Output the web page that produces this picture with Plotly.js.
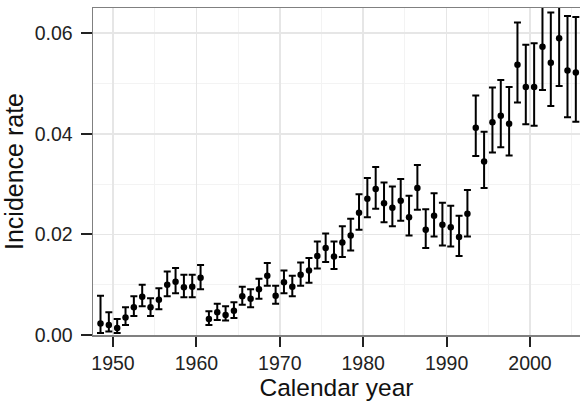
<!DOCTYPE html>
<html>
<head>
<meta charset="utf-8">
<script src="https://cdn.plot.ly/plotly-3.0.1.min.js"></script>
<style>html,body{margin:0;padding:0;background:#fff;}#chart{width:580px;height:402px;}</style>
</head>
<body>
<div id="chart"></div>
<script>
// Calendar years (points drawn at mid-year)
const years = [1948,1949,1950,1951,1952,1953,1954,1955,1956,1957,
               1958,1959,1960,1961,1962,1963,1964,1965,1966,1967,
               1968,1969,1970,1971,1972,1973,1974,1975,1976,1977,
               1978,1979,1980,1981,1982,1983,1984,1985,1986,1987,
               1988,1989,1990,1991,1992,1993,1994,1995,1996,1997,
               1998,1999,2000,2001,2002,2003,2004,2005];
// Incidence rate estimates
const rate = [0.0023,0.0020,0.0014,0.0035,0.0055,0.0076,0.0055,0.0070,0.0100,0.0106,
              0.0095,0.0096,0.0114,0.0032,0.0045,0.0040,0.0048,0.0077,0.0072,0.0091,
              0.0118,0.0078,0.0105,0.0096,0.0120,0.0128,0.0157,0.0173,0.0156,0.0184,
              0.0198,0.0243,0.0271,0.0290,0.0262,0.0253,0.0267,0.0234,0.0292,0.0209,
              0.0237,0.0219,0.0214,0.0195,0.0241,0.0412,0.0345,0.0423,0.0436,0.0420,
              0.0537,0.0493,0.0493,0.0573,0.0541,0.0590,0.0526,0.0522];
// Lower confidence limits
const lower = [0.0004,0.0007,0.0004,0.0020,0.0038,0.0057,0.0038,0.0051,0.0077,0.0083,
               0.0075,0.0075,0.0091,0.0020,0.0030,0.0029,0.0034,0.0060,0.0055,0.0072,
               0.0098,0.0062,0.0083,0.0077,0.0098,0.0104,0.0132,0.0145,0.0131,0.0155,
               0.0168,0.0209,0.0234,0.0251,0.0224,0.0216,0.0227,0.0198,0.0249,0.0173,
               0.0196,0.0178,0.0176,0.0157,0.0196,0.0356,0.0292,0.0363,0.0373,0.0357,
               0.0462,0.0419,0.0416,0.0487,0.0455,0.0495,0.0433,0.0424];
// Upper confidence limits
const upper = [0.0078,0.0045,0.0032,0.0055,0.0077,0.0100,0.0073,0.0093,0.0126,0.0133,
               0.0120,0.0120,0.0139,0.0047,0.0062,0.0057,0.0065,0.0096,0.0091,0.0112,
               0.0143,0.0098,0.0128,0.0118,0.0144,0.0153,0.0186,0.0202,0.0186,0.0216,
               0.0231,0.0280,0.0312,0.0334,0.0303,0.0295,0.0310,0.0277,0.0338,0.0250,
               0.0282,0.0263,0.0257,0.0237,0.0288,0.0476,0.0404,0.0492,0.0507,0.0493,
               0.0621,0.0577,0.0580,0.0670,0.0641,0.0690,0.0634,0.0632];
const xTickVals = [1950,1960,1970,1980,1990,2000];
const xTickText = ['1950','1960','1970','1980','1990','2000'];
const yTickVals = [0,0.02,0.04,0.06];
const yTickText = ['0.00','0.02','0.04','0.06'];

const xs = years.map(y => y + 0.5);
const trace = {
  x: xs, y: rate, type: 'scatter', mode: 'markers',
  marker: {color: '#000', size: 6.5},
  error_y: {
    type: 'data', symmetric: false,
    array: upper.map((u, i) => u - rate[i]),
    arrayminus: lower.map((l, i) => rate[i] - l),
    color: '#000', thickness: 2, width: 3.5
  },
  cliponaxis: true, hoverinfo: 'skip'
};

const font = {family: 'Liberation Sans, Arial, sans-serif', color: '#1a1a1a'};
const layout = {
  width: 580, height: 402,
  margin: {l: 93, r: 0, t: 8, b: 67},
  paper_bgcolor: '#fff', plot_bgcolor: '#fff',
  showlegend: false,
  font: font,
  xaxis: {
    range: [1947.6, 2006.0],
    tickmode: 'array', tickvals: xTickVals, ticktext: xTickText,
    ticks: 'outside', ticklen: 10, tickwidth: 2, tickcolor: '#222',
    tickfont: {size: 19.5, color: '#222'},
    showline: true, linecolor: '#808080', linewidth: 1.5, mirror: true,
    showgrid: true, gridcolor: '#e6e6e6', gridwidth: 1.5,
    minor: {dtick: 5, tick0: 1945, showgrid: true, gridcolor: '#f3f3f3', gridwidth: 1, ticks: ''},
    zeroline: false,
    title: {text: 'Calendar year', font: {size: 24.5, color: '#111'}, standoff: 2},
    automargin: false
  },
  yaxis: {
    range: [0, 0.065],
    tickmode: 'array', tickvals: yTickVals, ticktext: yTickText,
    ticks: 'outside', ticklen: 11, tickwidth: 2, tickcolor: '#222',
    tickfont: {size: 19.5, color: '#222'},
    ticklabelstandoff: 4,
    showline: true, linecolor: '#808080', linewidth: 1.5, mirror: false,
    showgrid: true, gridcolor: '#e6e6e6', gridwidth: 1.5,
    minor: {dtick: 0.01, tick0: 0, showgrid: true, gridcolor: '#f3f3f3', gridwidth: 1, ticks: ''},
    zeroline: false,
    title: {text: 'Incidence rate', font: {size: 25, color: '#111'}, standoff: 4},
    automargin: false
  }
};

Plotly.newPlot('chart', [trace], layout, {displayModeBar: false, staticPlot: true});
</script>
</body>
</html>
